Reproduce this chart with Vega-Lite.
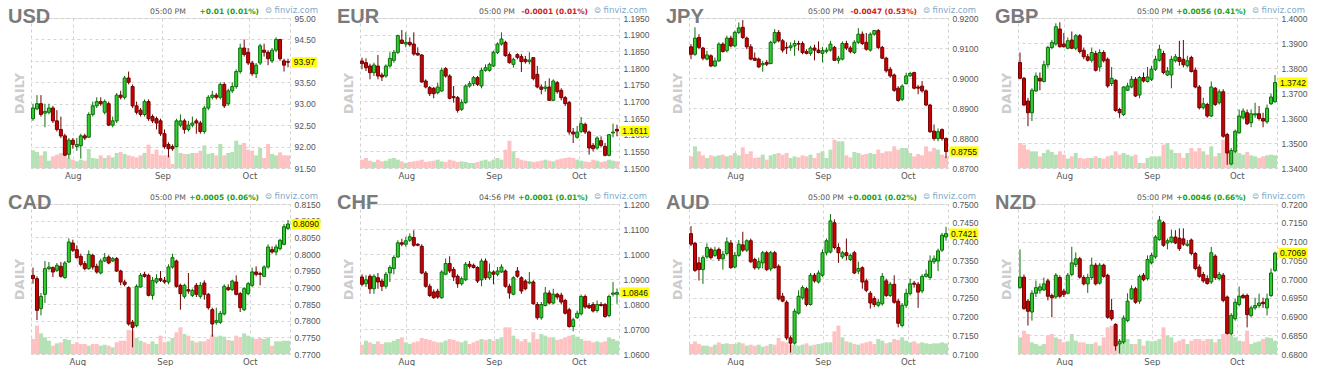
{
"$schema":"https://vega.github.io/schema/vega-lite/v6.json",
"padding":{"left":7,"top":5,"right":0,"bottom":0},
"background":"white",
"columns":4,
"spacing":{"row":36,"column":70},
"bounds":"flush",
"datasets":{
"USD":[{"i":0,"o":92.65,"h":93.0,"l":92.6,"c":92.9,"v":53},{"i":1,"o":92.88,"h":93.2,"l":92.85,"c":93.0,"v":48},{"i":2,"o":93.0,"h":93.2,"l":92.7,"c":92.75,"v":38},{"i":3,"o":92.78,"h":93.0,"l":92.45,"c":92.82,"v":50},{"i":4,"o":92.8,"h":93.0,"l":92.75,"c":92.9,"v":22},{"i":5,"o":92.9,"h":92.95,"l":92.55,"c":92.6,"v":35},{"i":6,"o":92.6,"h":92.85,"l":92.35,"c":92.4,"v":40},{"i":7,"o":92.4,"h":92.7,"l":92.2,"c":92.25,"v":45},{"i":8,"o":92.25,"h":92.3,"l":91.78,"c":91.8,"v":65},{"i":9,"o":91.82,"h":92.2,"l":91.72,"c":92.15,"v":30},{"i":10,"o":92.15,"h":92.2,"l":91.95,"c":92.05,"v":25},{"i":11,"o":92.0,"h":92.2,"l":91.9,"c":92.05,"v":20},{"i":12,"o":92.02,"h":92.3,"l":91.72,"c":92.25,"v":25},{"i":13,"o":92.25,"h":92.3,"l":92.15,"c":92.2,"v":22},{"i":14,"o":92.22,"h":92.8,"l":92.2,"c":92.75,"v":57},{"i":15,"o":92.75,"h":93.05,"l":92.7,"c":92.95,"v":30},{"i":16,"o":92.95,"h":93.15,"l":92.9,"c":93.05,"v":28},{"i":17,"o":93.05,"h":93.15,"l":92.95,"c":93.0,"v":38},{"i":18,"o":92.8,"h":93.1,"l":92.75,"c":93.05,"v":30},{"i":19,"o":93.0,"h":93.05,"l":92.48,"c":92.5,"v":38},{"i":20,"o":92.5,"h":92.7,"l":92.45,"c":92.6,"v":32},{"i":21,"o":92.6,"h":93.25,"l":92.55,"c":93.2,"v":45},{"i":22,"o":93.2,"h":93.3,"l":93.1,"c":93.15,"v":48},{"i":23,"o":93.15,"h":93.65,"l":93.1,"c":93.6,"v":42},{"i":24,"o":93.6,"h":93.75,"l":93.45,"c":93.5,"v":38},{"i":25,"o":93.4,"h":93.45,"l":92.9,"c":92.95,"v":35},{"i":26,"o":92.95,"h":93.05,"l":92.75,"c":92.8,"v":32},{"i":27,"o":92.85,"h":92.9,"l":92.7,"c":92.75,"v":38},{"i":28,"o":92.75,"h":93.1,"l":92.7,"c":93.05,"v":45},{"i":29,"o":93.05,"h":93.1,"l":92.6,"c":92.65,"v":70},{"i":30,"o":92.7,"h":92.75,"l":92.55,"c":92.6,"v":42},{"i":31,"o":92.65,"h":92.7,"l":92.4,"c":92.55,"v":55},{"i":32,"o":92.6,"h":92.65,"l":92.25,"c":92.3,"v":38},{"i":33,"o":92.3,"h":92.4,"l":91.95,"c":92.0,"v":38},{"i":34,"o":92.05,"h":92.1,"l":91.75,"c":91.95,"v":38},{"i":35,"o":92.0,"h":92.05,"l":91.9,"c":91.95,"v":12},{"i":36,"o":92.0,"h":92.65,"l":91.98,"c":92.6,"v":72},{"i":37,"o":92.5,"h":92.75,"l":92.45,"c":92.6,"v":45},{"i":38,"o":92.6,"h":92.65,"l":92.3,"c":92.4,"v":42},{"i":39,"o":92.4,"h":92.6,"l":92.35,"c":92.5,"v":42},{"i":40,"o":92.5,"h":92.7,"l":92.45,"c":92.55,"v":45},{"i":41,"o":92.6,"h":92.65,"l":92.3,"c":92.55,"v":45},{"i":42,"o":92.55,"h":92.6,"l":92.3,"c":92.35,"v":52},{"i":43,"o":92.35,"h":92.95,"l":92.3,"c":92.9,"v":68},{"i":44,"o":92.9,"h":93.2,"l":92.85,"c":93.15,"v":42},{"i":45,"o":93.15,"h":93.3,"l":93.1,"c":93.2,"v":45},{"i":46,"o":93.2,"h":93.25,"l":93.1,"c":93.15,"v":38},{"i":47,"o":93.15,"h":93.5,"l":93.1,"c":93.45,"v":72},{"i":48,"o":93.45,"h":93.5,"l":92.9,"c":92.95,"v":38},{"i":49,"o":93.0,"h":93.35,"l":92.95,"c":93.3,"v":45},{"i":50,"o":93.3,"h":93.5,"l":93.25,"c":93.4,"v":48},{"i":51,"o":93.4,"h":93.8,"l":93.35,"c":93.75,"v":82},{"i":52,"o":93.75,"h":94.4,"l":93.7,"c":94.3,"v":70},{"i":53,"o":94.3,"h":94.5,"l":94.1,"c":94.15,"v":75},{"i":54,"o":94.2,"h":94.3,"l":93.9,"c":93.95,"v":55},{"i":55,"o":93.95,"h":94.0,"l":93.65,"c":93.7,"v":52},{"i":56,"o":93.7,"h":93.95,"l":93.6,"c":93.9,"v":38},{"i":57,"o":93.95,"h":94.4,"l":93.9,"c":94.35,"v":60},{"i":58,"o":94.25,"h":94.4,"l":94.1,"c":94.2,"v":30},{"i":59,"o":94.2,"h":94.25,"l":93.9,"c":94.05,"v":72},{"i":60,"o":94.0,"h":94.3,"l":93.95,"c":94.25,"v":42},{"i":61,"o":94.25,"h":94.55,"l":94.2,"c":94.5,"v":38},{"i":62,"o":94.5,"h":94.5,"l":94.0,"c":94.05,"v":47},{"i":63,"o":94.0,"h":94.05,"l":93.75,"c":93.9,"v":38},{"i":64,"o":93.98,"h":94.05,"l":93.85,"c":93.97,"v":38}],
"EUR":[{"i":0,"o":1.1821,"h":1.1831,"l":1.1796,"c":1.1813,"v":25},{"i":1,"o":1.1816,"h":1.1829,"l":1.1791,"c":1.1801,"v":30},{"i":2,"o":1.1806,"h":1.1813,"l":1.1766,"c":1.1786,"v":22},{"i":3,"o":1.1786,"h":1.1816,"l":1.1776,"c":1.1809,"v":18},{"i":4,"o":1.1806,"h":1.1839,"l":1.1766,"c":1.1776,"v":25},{"i":5,"o":1.1779,"h":1.1786,"l":1.1761,"c":1.1773,"v":20},{"i":6,"o":1.1776,"h":1.1811,"l":1.1771,"c":1.1806,"v":22},{"i":7,"o":1.1806,"h":1.1847,"l":1.1801,"c":1.1829,"v":28},{"i":8,"o":1.1823,"h":1.1854,"l":1.1816,"c":1.1847,"v":30},{"i":9,"o":1.1847,"h":1.19,"l":1.1842,"c":1.1897,"v":25},{"i":10,"o":1.1884,"h":1.1914,"l":1.1872,"c":1.1874,"v":20},{"i":11,"o":1.1872,"h":1.1907,"l":1.1862,"c":1.1877,"v":15},{"i":12,"o":1.1877,"h":1.1892,"l":1.1864,"c":1.187,"v":18},{"i":13,"o":1.1872,"h":1.1907,"l":1.1837,"c":1.1842,"v":20},{"i":14,"o":1.1844,"h":1.1862,"l":1.1837,"c":1.1839,"v":22},{"i":15,"o":1.1839,"h":1.1842,"l":1.1756,"c":1.1758,"v":25},{"i":16,"o":1.1761,"h":1.1766,"l":1.1739,"c":1.1743,"v":18},{"i":17,"o":1.1741,"h":1.1746,"l":1.1716,"c":1.1723,"v":20},{"i":18,"o":1.1739,"h":1.1743,"l":1.1709,"c":1.1723,"v":22},{"i":19,"o":1.1726,"h":1.1756,"l":1.1721,"c":1.1743,"v":25},{"i":20,"o":1.1731,"h":1.1801,"l":1.1729,"c":1.1793,"v":20},{"i":21,"o":1.1798,"h":1.1803,"l":1.1771,"c":1.1776,"v":18},{"i":22,"o":1.1776,"h":1.1781,"l":1.1706,"c":1.1709,"v":25},{"i":23,"o":1.1714,"h":1.1746,"l":1.1696,"c":1.1711,"v":22},{"i":24,"o":1.1711,"h":1.1716,"l":1.1666,"c":1.1673,"v":18},{"i":25,"o":1.1676,"h":1.1706,"l":1.1671,"c":1.1696,"v":20},{"i":26,"o":1.1696,"h":1.1751,"l":1.1693,"c":1.1746,"v":18},{"i":27,"o":1.1746,"h":1.1761,"l":1.1741,"c":1.1753,"v":15},{"i":28,"o":1.1753,"h":1.1776,"l":1.1746,"c":1.1771,"v":15},{"i":29,"o":1.1771,"h":1.1776,"l":1.1746,"c":1.1751,"v":18},{"i":30,"o":1.1746,"h":1.1801,"l":1.1739,"c":1.1793,"v":22},{"i":31,"o":1.1793,"h":1.1811,"l":1.1789,"c":1.1801,"v":25},{"i":32,"o":1.1793,"h":1.1816,"l":1.1789,"c":1.1811,"v":20},{"i":33,"o":1.1806,"h":1.1852,"l":1.1803,"c":1.1847,"v":25},{"i":34,"o":1.1847,"h":1.1877,"l":1.1842,"c":1.1872,"v":30},{"i":35,"o":1.1872,"h":1.1907,"l":1.1867,"c":1.1887,"v":25},{"i":36,"o":1.1877,"h":1.1882,"l":1.1834,"c":1.1837,"v":55},{"i":37,"o":1.184,"h":1.1847,"l":1.1813,"c":1.1816,"v":82},{"i":38,"o":1.1811,"h":1.1831,"l":1.1801,"c":1.1826,"v":50},{"i":39,"o":1.184,"h":1.1844,"l":1.1826,"c":1.1832,"v":30},{"i":40,"o":1.1834,"h":1.1842,"l":1.1788,"c":1.1819,"v":25},{"i":41,"o":1.1826,"h":1.1836,"l":1.1813,"c":1.1819,"v":22},{"i":42,"o":1.1819,"h":1.1847,"l":1.1811,"c":1.1824,"v":20},{"i":43,"o":1.1831,"h":1.1833,"l":1.1763,"c":1.1768,"v":18},{"i":44,"o":1.1781,"h":1.1806,"l":1.1739,"c":1.1743,"v":20},{"i":45,"o":1.1743,"h":1.1751,"l":1.1721,"c":1.1736,"v":22},{"i":46,"o":1.1739,"h":1.1761,"l":1.1729,"c":1.1743,"v":25},{"i":47,"o":1.1743,"h":1.1769,"l":1.1701,"c":1.1703,"v":22},{"i":48,"o":1.1703,"h":1.1766,"l":1.1701,"c":1.1761,"v":20},{"i":49,"o":1.1756,"h":1.1761,"l":1.1723,"c":1.1729,"v":25},{"i":50,"o":1.1733,"h":1.1739,"l":1.1703,"c":1.1711,"v":28},{"i":51,"o":1.1711,"h":1.1716,"l":1.1686,"c":1.1693,"v":30},{"i":52,"o":1.1696,"h":1.1701,"l":1.16,"c":1.1608,"v":32},{"i":53,"o":1.1608,"h":1.162,"l":1.1575,"c":1.1602,"v":30},{"i":54,"o":1.1592,"h":1.1626,"l":1.1588,"c":1.1608,"v":25},{"i":55,"o":1.161,"h":1.1653,"l":1.1605,"c":1.1633,"v":22},{"i":56,"o":1.1631,"h":1.1636,"l":1.1602,"c":1.1608,"v":20},{"i":57,"o":1.1608,"h":1.1612,"l":1.154,"c":1.156,"v":18},{"i":58,"o":1.1568,"h":1.1575,"l":1.155,"c":1.1558,"v":25},{"i":59,"o":1.156,"h":1.1595,"l":1.1555,"c":1.159,"v":22},{"i":60,"o":1.1582,"h":1.1595,"l":1.1562,"c":1.1568,"v":18},{"i":61,"o":1.1565,"h":1.1575,"l":1.1535,"c":1.1538,"v":20},{"i":62,"o":1.1538,"h":1.1602,"l":1.1535,"c":1.16,"v":25},{"i":63,"o":1.1605,"h":1.1633,"l":1.1592,"c":1.1608,"v":22},{"i":64,"o":1.1616,"h":1.163,"l":1.1595,"c":1.1611,"v":20}],
"JPY":[{"i":0,"o":0.9104,"h":0.9113,"l":0.9063,"c":0.9079,"v":35},{"i":1,"o":0.9079,"h":0.9169,"l":0.9074,"c":0.9133,"v":65},{"i":2,"o":0.9135,"h":0.9146,"l":0.9096,"c":0.9102,"v":50},{"i":3,"o":0.91,"h":0.9104,"l":0.9059,"c":0.9066,"v":38},{"i":4,"o":0.9063,"h":0.9091,"l":0.9059,"c":0.9077,"v":30},{"i":5,"o":0.9074,"h":0.9079,"l":0.9037,"c":0.904,"v":38},{"i":6,"o":0.904,"h":0.9068,"l":0.9037,"c":0.9057,"v":35},{"i":7,"o":0.9057,"h":0.9119,"l":0.9054,"c":0.9113,"v":38},{"i":8,"o":0.9113,"h":0.9119,"l":0.9085,"c":0.9088,"v":40},{"i":9,"o":0.9091,"h":0.9141,"l":0.9085,"c":0.9133,"v":35},{"i":10,"o":0.9133,"h":0.9141,"l":0.9102,"c":0.9107,"v":38},{"i":11,"o":0.9107,"h":0.9158,"l":0.9102,"c":0.9152,"v":45},{"i":12,"o":0.9152,"h":0.9185,"l":0.9146,"c":0.9167,"v":38},{"i":13,"o":0.9169,"h":0.9193,"l":0.913,"c":0.9135,"v":62},{"i":14,"o":0.9133,"h":0.9138,"l":0.9096,"c":0.9104,"v":42},{"i":15,"o":0.9104,"h":0.9113,"l":0.9059,"c":0.9063,"v":50},{"i":16,"o":0.9066,"h":0.9085,"l":0.9057,"c":0.9059,"v":30},{"i":17,"o":0.9063,"h":0.9068,"l":0.9033,"c":0.9037,"v":32},{"i":18,"o":0.9044,"h":0.9057,"l":0.9021,"c":0.9048,"v":40},{"i":19,"o":0.9052,"h":0.906,"l":0.904,"c":0.9046,"v":25},{"i":20,"o":0.9048,"h":0.9124,"l":0.9046,"c":0.9119,"v":38},{"i":21,"o":0.9119,"h":0.9163,"l":0.9113,"c":0.9152,"v":42},{"i":22,"o":0.9152,"h":0.916,"l":0.9119,"c":0.9124,"v":45},{"i":23,"o":0.9124,"h":0.913,"l":0.9085,"c":0.9093,"v":40},{"i":24,"o":0.9102,"h":0.9119,"l":0.908,"c":0.91,"v":45},{"i":25,"o":0.9102,"h":0.9119,"l":0.9091,"c":0.9107,"v":30},{"i":26,"o":0.9107,"h":0.9126,"l":0.9074,"c":0.9115,"v":35},{"i":27,"o":0.9115,"h":0.9124,"l":0.9091,"c":0.9113,"v":32},{"i":28,"o":0.9115,"h":0.9122,"l":0.9079,"c":0.9085,"v":38},{"i":29,"o":0.9088,"h":0.9096,"l":0.9079,"c":0.9082,"v":35},{"i":30,"o":0.9082,"h":0.9107,"l":0.9074,"c":0.91,"v":40},{"i":31,"o":0.91,"h":0.9111,"l":0.9059,"c":0.9093,"v":30},{"i":32,"o":0.9093,"h":0.9122,"l":0.9082,"c":0.9085,"v":45},{"i":33,"o":0.9082,"h":0.9104,"l":0.9052,"c":0.9091,"v":50},{"i":34,"o":0.9089,"h":0.9102,"l":0.9082,"c":0.9093,"v":30},{"i":35,"o":0.9093,"h":0.9124,"l":0.9088,"c":0.9113,"v":55},{"i":36,"o":0.9102,"h":0.9107,"l":0.9057,"c":0.9059,"v":85},{"i":37,"o":0.9059,"h":0.9074,"l":0.9048,"c":0.9066,"v":80},{"i":38,"o":0.9063,"h":0.9122,"l":0.9059,"c":0.9115,"v":80},{"i":39,"o":0.9115,"h":0.9124,"l":0.9093,"c":0.91,"v":38},{"i":40,"o":0.91,"h":0.9107,"l":0.9082,"c":0.9088,"v":32},{"i":41,"o":0.9085,"h":0.9126,"l":0.908,"c":0.9119,"v":48},{"i":42,"o":0.9119,"h":0.9166,"l":0.9113,"c":0.9146,"v":45},{"i":43,"o":0.9146,"h":0.9155,"l":0.911,"c":0.9115,"v":40},{"i":44,"o":0.9119,"h":0.915,"l":0.9091,"c":0.9096,"v":42},{"i":45,"o":0.9093,"h":0.9152,"l":0.9088,"c":0.9146,"v":45},{"i":46,"o":0.9146,"h":0.916,"l":0.9141,"c":0.9158,"v":42},{"i":47,"o":0.9158,"h":0.9163,"l":0.9096,"c":0.9102,"v":55},{"i":48,"o":0.9102,"h":0.9107,"l":0.9063,"c":0.9066,"v":45},{"i":49,"o":0.9066,"h":0.9071,"l":0.9018,"c":0.9024,"v":50},{"i":50,"o":0.9029,"h":0.9037,"l":0.9001,"c":0.9007,"v":50},{"i":51,"o":0.901,"h":0.9015,"l":0.8954,"c":0.8959,"v":65},{"i":52,"o":0.8966,"h":0.8973,"l":0.8921,"c":0.8925,"v":55},{"i":53,"o":0.8929,"h":0.8979,"l":0.8923,"c":0.8973,"v":60},{"i":54,"o":0.8981,"h":0.9018,"l":0.8979,"c":0.9007,"v":60},{"i":55,"o":0.9007,"h":0.9021,"l":0.9004,"c":0.9015,"v":45},{"i":56,"o":0.9018,"h":0.9021,"l":0.8962,"c":0.8966,"v":35},{"i":57,"o":0.897,"h":0.8977,"l":0.8946,"c":0.8966,"v":42},{"i":58,"o":0.8973,"h":0.899,"l":0.8951,"c":0.8957,"v":38},{"i":59,"o":0.8957,"h":0.8962,"l":0.8906,"c":0.891,"v":65},{"i":60,"o":0.891,"h":0.8914,"l":0.8817,"c":0.8821,"v":50},{"i":61,"o":0.8823,"h":0.8845,"l":0.8791,"c":0.8798,"v":60},{"i":62,"o":0.8798,"h":0.8832,"l":0.8789,"c":0.8821,"v":55},{"i":63,"o":0.8828,"h":0.8832,"l":0.8791,"c":0.8798,"v":40},{"i":64,"o":0.8798,"h":0.8802,"l":0.8733,"c":0.8755,"v":35}],
"GBP":[{"i":0,"o":1.3822,"h":1.3862,"l":1.3755,"c":1.3759,"v":75},{"i":1,"o":1.3759,"h":1.3764,"l":1.3648,"c":1.3652,"v":70},{"i":2,"o":1.3668,"h":1.3681,"l":1.3567,"c":1.3621,"v":55},{"i":3,"o":1.3621,"h":1.3719,"l":1.3588,"c":1.3711,"v":50},{"i":4,"o":1.3708,"h":1.3782,"l":1.3705,"c":1.3768,"v":50},{"i":5,"o":1.3759,"h":1.3782,"l":1.3711,"c":1.3748,"v":35},{"i":6,"o":1.3746,"h":1.3829,"l":1.3742,"c":1.3813,"v":45},{"i":7,"o":1.3813,"h":1.3889,"l":1.3802,"c":1.3882,"v":55},{"i":8,"o":1.3882,"h":1.3912,"l":1.3875,"c":1.3902,"v":48},{"i":9,"o":1.3896,"h":1.3979,"l":1.3889,"c":1.3965,"v":40},{"i":10,"o":1.3956,"h":1.3983,"l":1.3882,"c":1.3885,"v":50},{"i":11,"o":1.3896,"h":1.394,"l":1.3882,"c":1.3885,"v":40},{"i":12,"o":1.3879,"h":1.3922,"l":1.3875,"c":1.3909,"v":28},{"i":13,"o":1.3912,"h":1.3946,"l":1.3875,"c":1.3879,"v":35},{"i":14,"o":1.3879,"h":1.3936,"l":1.3871,"c":1.3929,"v":45},{"i":15,"o":1.3929,"h":1.3936,"l":1.3858,"c":1.3866,"v":30},{"i":16,"o":1.3871,"h":1.3882,"l":1.3835,"c":1.3845,"v":28},{"i":17,"o":1.3845,"h":1.3856,"l":1.3826,"c":1.3831,"v":30},{"i":18,"o":1.3831,"h":1.3882,"l":1.3822,"c":1.3862,"v":30},{"i":19,"o":1.3858,"h":1.3869,"l":1.3786,"c":1.3791,"v":35},{"i":20,"o":1.3804,"h":1.3875,"l":1.3786,"c":1.3862,"v":30},{"i":21,"o":1.3862,"h":1.3871,"l":1.3822,"c":1.3829,"v":28},{"i":22,"o":1.3835,"h":1.3842,"l":1.3721,"c":1.3728,"v":35},{"i":23,"o":1.3738,"h":1.3804,"l":1.3728,"c":1.3759,"v":38},{"i":24,"o":1.3751,"h":1.3755,"l":1.3625,"c":1.363,"v":50},{"i":25,"o":1.3634,"h":1.3641,"l":1.3601,"c":1.3621,"v":40},{"i":26,"o":1.3614,"h":1.3728,"l":1.3608,"c":1.3724,"v":45},{"i":27,"o":1.3711,"h":1.3741,"l":1.3708,"c":1.3728,"v":40},{"i":28,"o":1.3724,"h":1.3768,"l":1.3719,"c":1.3755,"v":35},{"i":29,"o":1.3755,"h":1.3764,"l":1.3684,"c":1.3688,"v":40},{"i":30,"o":1.3692,"h":1.3768,"l":1.3679,"c":1.3762,"v":15},{"i":31,"o":1.3762,"h":1.3782,"l":1.3742,"c":1.3748,"v":15},{"i":32,"o":1.3746,"h":1.3804,"l":1.3742,"c":1.3764,"v":30},{"i":33,"o":1.3755,"h":1.3809,"l":1.3748,"c":1.3795,"v":35},{"i":34,"o":1.3795,"h":1.3849,"l":1.3788,"c":1.3835,"v":35},{"i":35,"o":1.3831,"h":1.3893,"l":1.3826,"c":1.3875,"v":35},{"i":36,"o":1.3858,"h":1.3869,"l":1.3775,"c":1.3782,"v":70},{"i":37,"o":1.3772,"h":1.3804,"l":1.3768,"c":1.3788,"v":75},{"i":38,"o":1.3772,"h":1.3849,"l":1.3719,"c":1.3835,"v":55},{"i":39,"o":1.3829,"h":1.3856,"l":1.3822,"c":1.3845,"v":45},{"i":40,"o":1.3842,"h":1.3909,"l":1.3809,"c":1.3826,"v":45},{"i":41,"o":1.3835,"h":1.3912,"l":1.3802,"c":1.3813,"v":30},{"i":42,"o":1.3809,"h":1.3849,"l":1.3802,"c":1.3829,"v":45},{"i":43,"o":1.3842,"h":1.3849,"l":1.3782,"c":1.3786,"v":60},{"i":44,"o":1.3791,"h":1.3802,"l":1.3719,"c":1.3724,"v":50},{"i":45,"o":1.3724,"h":1.3732,"l":1.3634,"c":1.3641,"v":60},{"i":46,"o":1.3641,"h":1.3681,"l":1.3634,"c":1.3657,"v":50},{"i":47,"o":1.3654,"h":1.3661,"l":1.3601,"c":1.3608,"v":40},{"i":48,"o":1.3608,"h":1.3746,"l":1.3604,"c":1.3724,"v":65},{"i":49,"o":1.3719,"h":1.3724,"l":1.3648,"c":1.3654,"v":35},{"i":50,"o":1.3661,"h":1.3715,"l":1.3654,"c":1.3705,"v":45},{"i":51,"o":1.3705,"h":1.3715,"l":1.3521,"c":1.3527,"v":85},{"i":52,"o":1.3534,"h":1.3541,"l":1.3413,"c":1.346,"v":75},{"i":53,"o":1.3416,"h":1.348,"l":1.3411,"c":1.347,"v":50},{"i":54,"o":1.3467,"h":1.3554,"l":1.346,"c":1.3547,"v":48},{"i":55,"o":1.3541,"h":1.3634,"l":1.3537,"c":1.3608,"v":45},{"i":56,"o":1.3601,"h":1.3639,"l":1.3594,"c":1.3628,"v":40},{"i":57,"o":1.3621,"h":1.3634,"l":1.3572,"c":1.3577,"v":48},{"i":58,"o":1.3581,"h":1.3634,"l":1.3563,"c":1.3617,"v":38},{"i":59,"o":1.3612,"h":1.3661,"l":1.3601,"c":1.3617,"v":35},{"i":60,"o":1.3617,"h":1.3648,"l":1.359,"c":1.3598,"v":30},{"i":61,"o":1.3598,"h":1.3621,"l":1.3563,"c":1.3588,"v":35},{"i":62,"o":1.3585,"h":1.3654,"l":1.3577,"c":1.3639,"v":38},{"i":63,"o":1.3657,"h":1.3697,"l":1.3652,"c":1.3684,"v":40},{"i":64,"o":1.3665,"h":1.3772,"l":1.3661,"c":1.3742,"v":38}],
"CAD":[{"i":0,"o":0.7936,"h":0.7959,"l":0.7911,"c":0.7926,"v":45},{"i":1,"o":0.7926,"h":0.7933,"l":0.7802,"c":0.7831,"v":85},{"i":2,"o":0.7836,"h":0.7883,"l":0.7816,"c":0.7873,"v":62},{"i":3,"o":0.7879,"h":0.7979,"l":0.7853,"c":0.7956,"v":50},{"i":4,"o":0.7956,"h":0.7976,"l":0.7951,"c":0.7961,"v":40},{"i":5,"o":0.7959,"h":0.7963,"l":0.7931,"c":0.7946,"v":25},{"i":6,"o":0.7951,"h":0.7973,"l":0.7946,"c":0.7966,"v":32},{"i":7,"o":0.7963,"h":0.7976,"l":0.7929,"c":0.7933,"v":35},{"i":8,"o":0.7929,"h":0.7979,"l":0.7926,"c":0.7973,"v":45},{"i":9,"o":0.7976,"h":0.8047,"l":0.7973,"c":0.8036,"v":42},{"i":10,"o":0.8033,"h":0.8043,"l":0.8006,"c":0.8011,"v":30},{"i":11,"o":0.8013,"h":0.8026,"l":0.7986,"c":0.7989,"v":35},{"i":12,"o":0.7993,"h":0.8001,"l":0.7963,"c":0.7969,"v":30},{"i":13,"o":0.7971,"h":0.7979,"l":0.7951,"c":0.7956,"v":30},{"i":14,"o":0.7956,"h":0.8011,"l":0.7953,"c":0.7999,"v":25},{"i":15,"o":0.7996,"h":0.8001,"l":0.7953,"c":0.7961,"v":30},{"i":16,"o":0.7963,"h":0.7971,"l":0.7941,"c":0.7946,"v":30},{"i":17,"o":0.7943,"h":0.7986,"l":0.7939,"c":0.7979,"v":25},{"i":18,"o":0.7979,"h":0.8003,"l":0.7976,"c":0.7989,"v":28},{"i":19,"o":0.7991,"h":0.7996,"l":0.7969,"c":0.7973,"v":25},{"i":20,"o":0.7979,"h":0.7991,"l":0.7976,"c":0.7986,"v":20},{"i":21,"o":0.7986,"h":0.7991,"l":0.7946,"c":0.7949,"v":35},{"i":22,"o":0.7949,"h":0.7953,"l":0.7906,"c":0.7916,"v":40},{"i":23,"o":0.7916,"h":0.7923,"l":0.7903,"c":0.7909,"v":40},{"i":24,"o":0.7899,"h":0.7903,"l":0.7785,"c":0.779,"v":72},{"i":25,"o":0.7795,"h":0.7802,"l":0.772,"c":0.778,"v":70},{"i":26,"o":0.7785,"h":0.7909,"l":0.778,"c":0.7903,"v":48},{"i":27,"o":0.7901,"h":0.7943,"l":0.7899,"c":0.7936,"v":40},{"i":28,"o":0.7939,"h":0.7946,"l":0.7929,"c":0.7933,"v":35},{"i":29,"o":0.7936,"h":0.7941,"l":0.7873,"c":0.7876,"v":30},{"i":30,"o":0.7876,"h":0.7931,"l":0.7863,"c":0.7921,"v":38},{"i":31,"o":0.7916,"h":0.7939,"l":0.7911,"c":0.7926,"v":30},{"i":32,"o":0.7926,"h":0.7949,"l":0.7916,"c":0.7921,"v":55},{"i":33,"o":0.7921,"h":0.7931,"l":0.7911,"c":0.7916,"v":35},{"i":34,"o":0.7916,"h":0.7969,"l":0.7909,"c":0.7961,"v":38},{"i":35,"o":0.7961,"h":0.8001,"l":0.7956,"c":0.7989,"v":48},{"i":36,"o":0.7979,"h":0.7983,"l":0.7899,"c":0.7903,"v":65},{"i":37,"o":0.7906,"h":0.7911,"l":0.7833,"c":0.7881,"v":80},{"i":38,"o":0.7873,"h":0.7911,"l":0.7866,"c":0.7906,"v":60},{"i":39,"o":0.7893,"h":0.7943,"l":0.7881,"c":0.7889,"v":55},{"i":40,"o":0.7876,"h":0.7896,"l":0.7871,"c":0.7891,"v":40},{"i":41,"o":0.7906,"h":0.7913,"l":0.7871,"c":0.7879,"v":35},{"i":42,"o":0.7873,"h":0.7916,"l":0.7866,"c":0.7906,"v":38},{"i":43,"o":0.7913,"h":0.7921,"l":0.7863,"c":0.7879,"v":38},{"i":44,"o":0.7879,"h":0.7883,"l":0.7833,"c":0.7839,"v":45},{"i":45,"o":0.7833,"h":0.7839,"l":0.7752,"c":0.779,"v":58},{"i":46,"o":0.7795,"h":0.7839,"l":0.7788,"c":0.78,"v":52},{"i":47,"o":0.7795,"h":0.7829,"l":0.779,"c":0.7822,"v":55},{"i":48,"o":0.782,"h":0.7909,"l":0.7816,"c":0.7903,"v":52},{"i":49,"o":0.7899,"h":0.7909,"l":0.7889,"c":0.7893,"v":42},{"i":50,"o":0.7893,"h":0.7923,"l":0.7889,"c":0.7919,"v":40},{"i":51,"o":0.7916,"h":0.7936,"l":0.7876,"c":0.7879,"v":55},{"i":52,"o":0.7881,"h":0.7886,"l":0.7826,"c":0.7839,"v":50},{"i":53,"o":0.7833,"h":0.7901,"l":0.7829,"c":0.7896,"v":62},{"i":54,"o":0.7881,"h":0.7916,"l":0.7876,"c":0.7911,"v":55},{"i":55,"o":0.7906,"h":0.7959,"l":0.7901,"c":0.7946,"v":48},{"i":56,"o":0.7946,"h":0.7963,"l":0.7933,"c":0.7939,"v":45},{"i":57,"o":0.7941,"h":0.7946,"l":0.7906,"c":0.7939,"v":48},{"i":58,"o":0.7933,"h":0.7966,"l":0.7931,"c":0.7961,"v":45},{"i":59,"o":0.7961,"h":0.8029,"l":0.7956,"c":0.8021,"v":50},{"i":60,"o":0.8013,"h":0.8023,"l":0.8001,"c":0.8006,"v":25},{"i":61,"o":0.8006,"h":0.8029,"l":0.7996,"c":0.8021,"v":38},{"i":62,"o":0.8016,"h":0.8046,"l":0.8011,"c":0.8041,"v":38},{"i":63,"o":0.8029,"h":0.809,"l":0.8026,"c":0.8082,"v":40},{"i":64,"o":0.8077,"h":0.8102,"l":0.8072,"c":0.809,"v":40}],
"CHF":[{"i":0,"o":1.0908,"h":1.0919,"l":1.0871,"c":1.0879,"v":28},{"i":1,"o":1.0881,"h":1.0915,"l":1.0868,"c":1.0897,"v":40},{"i":2,"o":1.0911,"h":1.0919,"l":1.0841,"c":1.0861,"v":35},{"i":3,"o":1.0861,"h":1.0919,"l":1.0841,"c":1.0911,"v":30},{"i":4,"o":1.0905,"h":1.0924,"l":1.0861,"c":1.0888,"v":38},{"i":5,"o":1.0892,"h":1.0901,"l":1.0852,"c":1.0871,"v":30},{"i":6,"o":1.0871,"h":1.0928,"l":1.0861,"c":1.0919,"v":35},{"i":7,"o":1.0924,"h":1.0955,"l":1.0888,"c":1.0946,"v":35},{"i":8,"o":1.0942,"h":1.0995,"l":1.0919,"c":1.0986,"v":40},{"i":9,"o":1.0988,"h":1.1055,"l":1.0986,"c":1.1045,"v":45},{"i":10,"o":1.1045,"h":1.1061,"l":1.1031,"c":1.1039,"v":50},{"i":11,"o":1.1039,"h":1.1069,"l":1.1029,"c":1.1053,"v":35},{"i":12,"o":1.1055,"h":1.1082,"l":1.1048,"c":1.1069,"v":30},{"i":13,"o":1.1066,"h":1.1095,"l":1.1029,"c":1.1035,"v":35},{"i":14,"o":1.1039,"h":1.1043,"l":1.1031,"c":1.1035,"v":38},{"i":15,"o":1.1031,"h":1.1039,"l":1.0919,"c":1.0924,"v":48},{"i":16,"o":1.0924,"h":1.0932,"l":1.0865,"c":1.0871,"v":45},{"i":17,"o":1.0871,"h":1.0881,"l":1.0828,"c":1.0834,"v":42},{"i":18,"o":1.0848,"h":1.0858,"l":1.0821,"c":1.0825,"v":38},{"i":19,"o":1.0851,"h":1.0861,"l":1.0821,"c":1.0828,"v":35},{"i":20,"o":1.0825,"h":1.0935,"l":1.0821,"c":1.0928,"v":35},{"i":21,"o":1.0919,"h":1.0982,"l":1.0915,"c":1.0962,"v":40},{"i":22,"o":1.0962,"h":1.0991,"l":1.0924,"c":1.0932,"v":45},{"i":23,"o":1.0938,"h":1.0948,"l":1.0892,"c":1.0908,"v":42},{"i":24,"o":1.0911,"h":1.0919,"l":1.0865,"c":1.0881,"v":38},{"i":25,"o":1.0881,"h":1.091,"l":1.0874,"c":1.0901,"v":35},{"i":26,"o":1.0897,"h":1.0968,"l":1.0892,"c":1.0959,"v":40},{"i":27,"o":1.0959,"h":1.0972,"l":1.0942,"c":1.0951,"v":30},{"i":28,"o":1.0955,"h":1.0962,"l":1.0942,"c":1.0946,"v":35},{"i":29,"o":1.0946,"h":1.0951,"l":1.0884,"c":1.0892,"v":40},{"i":30,"o":1.0897,"h":1.0982,"l":1.0871,"c":1.0972,"v":45},{"i":31,"o":1.0972,"h":1.0982,"l":1.0897,"c":1.0905,"v":42},{"i":32,"o":1.0905,"h":1.0962,"l":1.0897,"c":1.0928,"v":45},{"i":33,"o":1.0928,"h":1.0935,"l":1.0879,"c":1.0919,"v":40},{"i":34,"o":1.0919,"h":1.0948,"l":1.0911,"c":1.0932,"v":45},{"i":35,"o":1.0928,"h":1.0959,"l":1.0924,"c":1.0948,"v":50},{"i":36,"o":1.0932,"h":1.0938,"l":1.0865,"c":1.0871,"v":80},{"i":37,"o":1.0871,"h":1.0881,"l":1.0821,"c":1.0844,"v":80},{"i":38,"o":1.0839,"h":1.0911,"l":1.0835,"c":1.0905,"v":55},{"i":39,"o":1.0932,"h":1.0948,"l":1.0905,"c":1.0911,"v":45},{"i":40,"o":1.0905,"h":1.0911,"l":1.0841,"c":1.0852,"v":38},{"i":41,"o":1.0892,"h":1.0899,"l":1.0855,"c":1.0861,"v":45},{"i":42,"o":1.0884,"h":1.0928,"l":1.0879,"c":1.0888,"v":35},{"i":43,"o":1.0888,"h":1.0895,"l":1.0798,"c":1.0801,"v":65},{"i":44,"o":1.0798,"h":1.0808,"l":1.0737,"c":1.0745,"v":45},{"i":45,"o":1.0745,"h":1.0808,"l":1.0737,"c":1.0798,"v":60},{"i":46,"o":1.0794,"h":1.0868,"l":1.079,"c":1.0844,"v":55},{"i":47,"o":1.0844,"h":1.0855,"l":1.0798,"c":1.0804,"v":50},{"i":48,"o":1.0804,"h":1.0861,"l":1.0798,"c":1.0839,"v":50},{"i":49,"o":1.0839,"h":1.0845,"l":1.0818,"c":1.0828,"v":42},{"i":50,"o":1.0835,"h":1.0845,"l":1.0798,"c":1.0808,"v":45},{"i":51,"o":1.0814,"h":1.0821,"l":1.0758,"c":1.0763,"v":50},{"i":52,"o":1.0777,"h":1.0785,"l":1.0705,"c":1.071,"v":55},{"i":53,"o":1.071,"h":1.0745,"l":1.0691,"c":1.0737,"v":58},{"i":54,"o":1.0745,"h":1.0774,"l":1.0741,"c":1.0763,"v":52},{"i":55,"o":1.0761,"h":1.0838,"l":1.0754,"c":1.083,"v":45},{"i":56,"o":1.083,"h":1.0838,"l":1.0781,"c":1.0788,"v":40},{"i":57,"o":1.0794,"h":1.0804,"l":1.078,"c":1.0785,"v":40},{"i":58,"o":1.0798,"h":1.0808,"l":1.0766,"c":1.0772,"v":35},{"i":59,"o":1.0774,"h":1.0814,"l":1.0766,"c":1.0798,"v":38},{"i":60,"o":1.0798,"h":1.0808,"l":1.079,"c":1.0794,"v":35},{"i":61,"o":1.0798,"h":1.0804,"l":1.0745,"c":1.075,"v":38},{"i":62,"o":1.0754,"h":1.0838,"l":1.0747,"c":1.083,"v":50},{"i":63,"o":1.0839,"h":1.0888,"l":1.083,"c":1.0844,"v":45},{"i":64,"o":1.0839,"h":1.0862,"l":1.0801,"c":1.0846,"v":40}],
"AUD":[{"i":0,"o":0.7421,"h":0.7441,"l":0.7388,"c":0.7393,"v":30},{"i":1,"o":0.7395,"h":0.7399,"l":0.7319,"c":0.7323,"v":38},{"i":2,"o":0.7343,"h":0.7359,"l":0.7296,"c":0.7325,"v":30},{"i":3,"o":0.7325,"h":0.7363,"l":0.7287,"c":0.7357,"v":25},{"i":4,"o":0.7359,"h":0.7395,"l":0.7354,"c":0.7384,"v":25},{"i":5,"o":0.7379,"h":0.7384,"l":0.7352,"c":0.7357,"v":22},{"i":6,"o":0.7363,"h":0.7386,"l":0.7359,"c":0.7377,"v":28},{"i":7,"o":0.7379,"h":0.7384,"l":0.7348,"c":0.7354,"v":35},{"i":8,"o":0.7354,"h":0.7375,"l":0.7325,"c":0.7366,"v":30},{"i":9,"o":0.7368,"h":0.7411,"l":0.7363,"c":0.7399,"v":32},{"i":10,"o":0.7396,"h":0.7404,"l":0.7328,"c":0.733,"v":30},{"i":11,"o":0.7332,"h":0.7372,"l":0.7328,"c":0.7363,"v":30},{"i":12,"o":0.7363,"h":0.7404,"l":0.7359,"c":0.7393,"v":35},{"i":13,"o":0.7391,"h":0.7426,"l":0.7372,"c":0.7377,"v":32},{"i":14,"o":0.7377,"h":0.7406,"l":0.7372,"c":0.7402,"v":25},{"i":15,"o":0.7402,"h":0.7408,"l":0.7343,"c":0.7346,"v":28},{"i":16,"o":0.7352,"h":0.7357,"l":0.7325,"c":0.733,"v":25},{"i":17,"o":0.733,"h":0.7357,"l":0.7325,"c":0.7346,"v":28},{"i":18,"o":0.7343,"h":0.7375,"l":0.7328,"c":0.737,"v":22},{"i":19,"o":0.737,"h":0.7375,"l":0.7321,"c":0.7325,"v":25},{"i":20,"o":0.7327,"h":0.7375,"l":0.7321,"c":0.737,"v":30},{"i":21,"o":0.737,"h":0.7375,"l":0.7328,"c":0.733,"v":28},{"i":22,"o":0.7334,"h":0.7339,"l":0.7243,"c":0.7247,"v":48},{"i":23,"o":0.7254,"h":0.7263,"l":0.7238,"c":0.7241,"v":38},{"i":24,"o":0.7238,"h":0.7243,"l":0.7137,"c":0.7143,"v":35},{"i":25,"o":0.7143,"h":0.7149,"l":0.7104,"c":0.7129,"v":28},{"i":26,"o":0.7129,"h":0.7221,"l":0.7125,"c":0.7214,"v":28},{"i":27,"o":0.7209,"h":0.727,"l":0.7205,"c":0.7254,"v":25},{"i":28,"o":0.725,"h":0.7283,"l":0.7245,"c":0.7277,"v":28},{"i":29,"o":0.7274,"h":0.7279,"l":0.7227,"c":0.7232,"v":32},{"i":30,"o":0.7232,"h":0.7316,"l":0.7229,"c":0.731,"v":25},{"i":31,"o":0.731,"h":0.7316,"l":0.729,"c":0.7295,"v":28},{"i":32,"o":0.7292,"h":0.7323,"l":0.7288,"c":0.7316,"v":30},{"i":33,"o":0.731,"h":0.7379,"l":0.7305,"c":0.737,"v":32},{"i":34,"o":0.737,"h":0.7408,"l":0.7363,"c":0.7402,"v":35},{"i":35,"o":0.7372,"h":0.7473,"l":0.7368,"c":0.7455,"v":35},{"i":36,"o":0.745,"h":0.7459,"l":0.7379,"c":0.7384,"v":68},{"i":37,"o":0.7384,"h":0.7395,"l":0.7343,"c":0.737,"v":85},{"i":38,"o":0.7359,"h":0.7375,"l":0.7354,"c":0.737,"v":50},{"i":39,"o":0.737,"h":0.7408,"l":0.735,"c":0.7363,"v":38},{"i":40,"o":0.7352,"h":0.7368,"l":0.7348,"c":0.7363,"v":35},{"i":41,"o":0.737,"h":0.7375,"l":0.7313,"c":0.7316,"v":30},{"i":42,"o":0.7321,"h":0.7346,"l":0.7313,"c":0.7328,"v":28},{"i":43,"o":0.733,"h":0.7334,"l":0.7274,"c":0.7292,"v":32},{"i":44,"o":0.7295,"h":0.7301,"l":0.7265,"c":0.727,"v":35},{"i":45,"o":0.7262,"h":0.7268,"l":0.7221,"c":0.7236,"v":38},{"i":46,"o":0.7248,"h":0.7254,"l":0.7225,"c":0.7232,"v":30},{"i":47,"o":0.723,"h":0.7247,"l":0.7225,"c":0.7238,"v":45},{"i":48,"o":0.7234,"h":0.7316,"l":0.7229,"c":0.7307,"v":40},{"i":49,"o":0.7295,"h":0.7301,"l":0.7252,"c":0.7256,"v":32},{"i":50,"o":0.7256,"h":0.7292,"l":0.7252,"c":0.7286,"v":35},{"i":51,"o":0.7286,"h":0.731,"l":0.7234,"c":0.7238,"v":45},{"i":52,"o":0.7241,"h":0.7247,"l":0.7171,"c":0.7182,"v":42},{"i":53,"o":0.7176,"h":0.7236,"l":0.7171,"c":0.723,"v":50},{"i":54,"o":0.723,"h":0.7274,"l":0.7223,"c":0.7262,"v":40},{"i":55,"o":0.7261,"h":0.7301,"l":0.7256,"c":0.7287,"v":35},{"i":56,"o":0.7289,"h":0.7295,"l":0.7277,"c":0.7286,"v":38},{"i":57,"o":0.7286,"h":0.7292,"l":0.7223,"c":0.7265,"v":32},{"i":58,"o":0.7268,"h":0.7313,"l":0.7262,"c":0.7307,"v":35},{"i":59,"o":0.7307,"h":0.7325,"l":0.7304,"c":0.7313,"v":32},{"i":60,"o":0.7304,"h":0.7363,"l":0.7298,"c":0.7348,"v":30},{"i":61,"o":0.7346,"h":0.7363,"l":0.734,"c":0.7354,"v":32},{"i":62,"o":0.7348,"h":0.7381,"l":0.7321,"c":0.7375,"v":32},{"i":63,"o":0.7377,"h":0.7423,"l":0.7372,"c":0.7417,"v":35},{"i":64,"o":0.7412,"h":0.7439,"l":0.7402,"c":0.7421,"v":32}],
"NZD":[{"i":0,"o":0.6977,"h":0.7079,"l":0.6974,"c":0.7005,"v":50},{"i":1,"o":0.7005,"h":0.7012,"l":0.6918,"c":0.6921,"v":70},{"i":2,"o":0.6941,"h":0.6947,"l":0.6876,"c":0.6914,"v":60},{"i":3,"o":0.6912,"h":0.697,"l":0.6889,"c":0.6962,"v":35},{"i":4,"o":0.6962,"h":0.6996,"l":0.6952,"c":0.6977,"v":30},{"i":5,"o":0.697,"h":0.6988,"l":0.6961,"c":0.6979,"v":25},{"i":6,"o":0.6971,"h":0.7004,"l":0.6968,"c":0.6987,"v":30},{"i":7,"o":0.6995,"h":0.7001,"l":0.6943,"c":0.6954,"v":55},{"i":8,"o":0.6956,"h":0.6961,"l":0.6898,"c":0.695,"v":60},{"i":9,"o":0.6952,"h":0.7016,"l":0.6947,"c":0.701,"v":50},{"i":10,"o":0.7004,"h":0.701,"l":0.695,"c":0.6954,"v":45},{"i":11,"o":0.6968,"h":0.6974,"l":0.6952,"c":0.6959,"v":35},{"i":12,"o":0.6962,"h":0.7016,"l":0.6959,"c":0.701,"v":38},{"i":13,"o":0.7012,"h":0.7086,"l":0.7007,"c":0.7043,"v":60},{"i":14,"o":0.7039,"h":0.7071,"l":0.7032,"c":0.7054,"v":40},{"i":15,"o":0.7054,"h":0.7059,"l":0.7001,"c":0.7005,"v":35},{"i":16,"o":0.7004,"h":0.701,"l":0.6983,"c":0.6987,"v":35},{"i":17,"o":0.6987,"h":0.7014,"l":0.6963,"c":0.7004,"v":30},{"i":18,"o":0.7004,"h":0.7057,"l":0.6998,"c":0.7037,"v":30},{"i":19,"o":0.7037,"h":0.7043,"l":0.6983,"c":0.6987,"v":35},{"i":20,"o":0.6989,"h":0.7043,"l":0.6985,"c":0.7037,"v":25},{"i":21,"o":0.7037,"h":0.7041,"l":0.7003,"c":0.7007,"v":50},{"i":22,"o":0.701,"h":0.7014,"l":0.6894,"c":0.6898,"v":80},{"i":23,"o":0.6916,"h":0.6947,"l":0.6889,"c":0.6894,"v":85},{"i":24,"o":0.6879,"h":0.6882,"l":0.6809,"c":0.6822,"v":55},{"i":25,"o":0.6827,"h":0.684,"l":0.6802,"c":0.6834,"v":40},{"i":26,"o":0.6832,"h":0.6903,"l":0.6827,"c":0.6896,"v":40},{"i":27,"o":0.6889,"h":0.6962,"l":0.6885,"c":0.6941,"v":45},{"i":28,"o":0.6947,"h":0.6983,"l":0.6945,"c":0.6974,"v":30},{"i":29,"o":0.6974,"h":0.6979,"l":0.6934,"c":0.6938,"v":30},{"i":30,"o":0.6941,"h":0.7012,"l":0.6934,"c":0.7007,"v":45},{"i":31,"o":0.701,"h":0.7016,"l":0.6994,"c":0.6998,"v":25},{"i":32,"o":0.7001,"h":0.7063,"l":0.6996,"c":0.7052,"v":40},{"i":33,"o":0.7043,"h":0.707,"l":0.7039,"c":0.7063,"v":38},{"i":34,"o":0.7059,"h":0.7117,"l":0.7054,"c":0.7112,"v":40},{"i":35,"o":0.7105,"h":0.7168,"l":0.7102,"c":0.7157,"v":45},{"i":36,"o":0.715,"h":0.7155,"l":0.7086,"c":0.709,"v":80},{"i":37,"o":0.7096,"h":0.7108,"l":0.7079,"c":0.7102,"v":55},{"i":38,"o":0.7099,"h":0.7132,"l":0.7095,"c":0.7112,"v":50},{"i":39,"o":0.7112,"h":0.713,"l":0.7093,"c":0.7096,"v":35},{"i":40,"o":0.7109,"h":0.7135,"l":0.7075,"c":0.7081,"v":40},{"i":41,"o":0.7107,"h":0.7135,"l":0.7088,"c":0.7093,"v":45},{"i":42,"o":0.709,"h":0.7104,"l":0.7086,"c":0.7093,"v":30},{"i":43,"o":0.7104,"h":0.7108,"l":0.7063,"c":0.7068,"v":40},{"i":44,"o":0.7068,"h":0.7072,"l":0.7023,"c":0.7028,"v":45},{"i":45,"o":0.7032,"h":0.7039,"l":0.7003,"c":0.7007,"v":45},{"i":46,"o":0.7012,"h":0.7019,"l":0.699,"c":0.6995,"v":40},{"i":47,"o":0.7001,"h":0.701,"l":0.6985,"c":0.6988,"v":45},{"i":48,"o":0.6992,"h":0.7086,"l":0.6987,"c":0.707,"v":45},{"i":49,"o":0.7061,"h":0.7066,"l":0.6998,"c":0.7004,"v":35},{"i":50,"o":0.7001,"h":0.7019,"l":0.6996,"c":0.7012,"v":45},{"i":51,"o":0.701,"h":0.7016,"l":0.6938,"c":0.6943,"v":60},{"i":52,"o":0.6952,"h":0.6956,"l":0.6852,"c":0.6855,"v":65},{"i":53,"o":0.6854,"h":0.6909,"l":0.6849,"c":0.6903,"v":55},{"i":54,"o":0.6894,"h":0.6947,"l":0.6889,"c":0.6938,"v":50},{"i":55,"o":0.6932,"h":0.698,"l":0.6927,"c":0.6954,"v":40},{"i":56,"o":0.6956,"h":0.6961,"l":0.6948,"c":0.695,"v":38},{"i":57,"o":0.6956,"h":0.6961,"l":0.6871,"c":0.6905,"v":70},{"i":58,"o":0.6903,"h":0.6929,"l":0.6898,"c":0.6923,"v":30},{"i":59,"o":0.6923,"h":0.695,"l":0.6918,"c":0.6929,"v":35},{"i":60,"o":0.6929,"h":0.6961,"l":0.6923,"c":0.6936,"v":38},{"i":61,"o":0.6938,"h":0.695,"l":0.6923,"c":0.6934,"v":45},{"i":62,"o":0.6923,"h":0.6961,"l":0.6903,"c":0.6947,"v":50},{"i":63,"o":0.6956,"h":0.7028,"l":0.6952,"c":0.7016,"v":48},{"i":64,"o":0.7023,"h":0.7073,"l":0.7019,"c":0.7069,"v":40}]
},
"concat":[
{"width":259,"height":150,"data":{"name":"USD"},
"encoding":{"x":{"field":"i","type":"quantitative","scale":{"domain":[-0.5,64.5],"nice":false,"zero":false,"padding":0},"axis":{"values":[10,32.5,54.3],"labelExpr":"datum.value < 20 ? 'Aug' : datum.value < 44 ? 'Sep' : 'Oct'","title":null}}},
"layer":[
{"mark":{"type":"bar","width":4},"encoding":{"y":{"field":"v","type":"quantitative","scale":{"domain":[0,450]},"axis":{"orient":"left","title":"DAILY","labels":false,"ticks":false,"domain":false,"grid":false,"titleFont":"DejaVu Sans","titleFontSize":13,"titleFontWeight":"bold","titleColor":"#cdcdcd","titlePadding":5}},"fill":{"condition":{"test":"datum.c >= datum.o","value":"#b4e2b4"},"value":"#ffc2c2"}}},
{"mark":{"type":"rule","strokeWidth":1},"encoding":{"y":{"field":"l","type":"quantitative","scale":{"domain":[91.5,95],"zero":false,"nice":false},"axis":{"orient":"right","values":[91.5,92,92.5,93,93.5,94,94.5,95],"format":".2f","title":null,"grid":true,"labels":true}},"y2":{"field":"h"},"stroke":{"condition":{"test":"datum.c >= datum.o","value":"#0b6e0b"},"value":"#6e0000"}}},
{"mark":{"type":"bar","width":3,"strokeWidth":1},"encoding":{"y":{"field":"o","type":"quantitative","scale":{"domain":[91.5,95],"zero":false,"nice":false},"axis":null},"y2":{"field":"c"},"fill":{"condition":{"test":"datum.c >= datum.o","value":"#33cc33"},"value":"#cc0000"},"stroke":{"condition":{"test":"datum.c >= datum.o","value":"#0b6e0b"},"value":"#6e0000"}}},
{"transform":[{"filter":"datum.i == 64"}],"mark":{"type":"point","shape":"M-1,-0.4H1V0.4H-1Z","size":625,"filled":true,"fill":"#ffff00","opacity":1,"strokeWidth":0},"encoding":{"x":{"datum":68.1},"y":{"field":"c","type":"quantitative","scale":{"domain":[91.5,95],"zero":false,"nice":false},"axis":null}}},
{"transform":[{"filter":"datum.i == 64"}],"mark":{"type":"text","font":"Liberation Sans","fontSize":8.5,"fill":"#111","baseline":"middle","align":"center"},"encoding":{"x":{"datum":68.1},"y":{"field":"c","type":"quantitative","scale":{"domain":[91.5,95],"zero":false,"nice":false},"axis":null},"text":{"field":"c","format":".2f"}}},
{"transform":[{"filter":"datum.i == 64"}],"mark":{"type":"text","text":"USD","font":"Liberation Sans","fontSize":20,"fontWeight":"bold","fill":"#7a7a7a","align":"left","baseline":"alphabetic","dx":-23,"dy":5},"encoding":{"x":{"datum":-0.5},"y":{"datum":1,"type":"quantitative","scale":{"domain":[0,1]},"axis":null}}},
{"transform":[{"filter":"datum.i == 64"}],"mark":{"type":"text","text":"05:00 PM","font":"DejaVu Sans","fontSize":7.7,"fill":"#555","align":"left","baseline":"alphabetic","dx":119,"dy":-4},"encoding":{"x":{"datum":-0.5},"y":{"datum":1,"type":"quantitative","scale":{"domain":[0,1]},"axis":null}}},
{"transform":[{"filter":"datum.i == 64"}],"mark":{"type":"text","text":"+0.01 (0.01%)","font":"DejaVu Sans","fontSize":7.4,"fontWeight":"bold","fill":"#22a022","align":"right","baseline":"alphabetic","dx":-31,"dy":-4},"encoding":{"x":{"datum":64.5},"y":{"datum":1,"type":"quantitative","scale":{"domain":[0,1]},"axis":null}}},
{"transform":[{"filter":"datum.i == 64"}],"mark":{"type":"text","text":"⊜ finviz.com","font":"DejaVu Sans","fontSize":8.5,"fill":"#7fa9c8","align":"right","baseline":"alphabetic","dx":28,"dy":-5},"encoding":{"x":{"datum":64.5},"y":{"datum":1,"type":"quantitative","scale":{"domain":[0,1]},"axis":null}}}
],
"resolve":{"scale":{"y":"independent"}}},
{"width":259,"height":150,"data":{"name":"EUR"},
"encoding":{"x":{"field":"i","type":"quantitative","scale":{"domain":[-0.5,64.5],"nice":false,"zero":false,"padding":0},"axis":{"values":[11.1,33.1,54.4],"labelExpr":"datum.value < 20 ? 'Aug' : datum.value < 44 ? 'Sep' : 'Oct'","title":null}}},
"layer":[
{"mark":{"type":"bar","width":4},"encoding":{"y":{"field":"v","type":"quantitative","scale":{"domain":[0,450]},"axis":{"orient":"left","title":"DAILY","labels":false,"ticks":false,"domain":false,"grid":false,"titleFont":"DejaVu Sans","titleFontSize":13,"titleFontWeight":"bold","titleColor":"#cdcdcd","titlePadding":5}},"fill":{"condition":{"test":"datum.c >= datum.o","value":"#b4e2b4"},"value":"#ffc2c2"}}},
{"mark":{"type":"rule","strokeWidth":1},"encoding":{"y":{"field":"l","type":"quantitative","scale":{"domain":[1.15,1.195],"zero":false,"nice":false},"axis":{"orient":"right","values":[1.15,1.155,1.16,1.165,1.17,1.175,1.18,1.185,1.19,1.195],"format":".4f","title":null,"grid":true,"labels":true}},"y2":{"field":"h"},"stroke":{"condition":{"test":"datum.c >= datum.o","value":"#0b6e0b"},"value":"#6e0000"}}},
{"mark":{"type":"bar","width":3,"strokeWidth":1},"encoding":{"y":{"field":"o","type":"quantitative","scale":{"domain":[1.15,1.195],"zero":false,"nice":false},"axis":null},"y2":{"field":"c"},"fill":{"condition":{"test":"datum.c >= datum.o","value":"#33cc33"},"value":"#cc0000"},"stroke":{"condition":{"test":"datum.c >= datum.o","value":"#0b6e0b"},"value":"#6e0000"}}},
{"transform":[{"filter":"datum.i == 64"}],"mark":{"type":"point","shape":"M-1,-0.35H1V0.35H-1Z","size":841,"filled":true,"fill":"#ffff00","opacity":1,"strokeWidth":0},"encoding":{"x":{"datum":68.5},"y":{"field":"c","type":"quantitative","scale":{"domain":[1.15,1.195],"zero":false,"nice":false},"axis":null}}},
{"transform":[{"filter":"datum.i == 64"}],"mark":{"type":"text","font":"Liberation Sans","fontSize":8.5,"fill":"#111","baseline":"middle","align":"center"},"encoding":{"x":{"datum":68.5},"y":{"field":"c","type":"quantitative","scale":{"domain":[1.15,1.195],"zero":false,"nice":false},"axis":null},"text":{"field":"c","format":".4f"}}},
{"transform":[{"filter":"datum.i == 64"}],"mark":{"type":"text","text":"EUR","font":"Liberation Sans","fontSize":20,"fontWeight":"bold","fill":"#7a7a7a","align":"left","baseline":"alphabetic","dx":-23,"dy":5},"encoding":{"x":{"datum":-0.5},"y":{"datum":1,"type":"quantitative","scale":{"domain":[0,1]},"axis":null}}},
{"transform":[{"filter":"datum.i == 64"}],"mark":{"type":"text","text":"05:00 PM","font":"DejaVu Sans","fontSize":7.7,"fill":"#555","align":"left","baseline":"alphabetic","dx":119,"dy":-4},"encoding":{"x":{"datum":-0.5},"y":{"datum":1,"type":"quantitative","scale":{"domain":[0,1]},"axis":null}}},
{"transform":[{"filter":"datum.i == 64"}],"mark":{"type":"text","text":"-0.0001 (0.01%)","font":"DejaVu Sans","fontSize":7.4,"fontWeight":"bold","fill":"#cc2222","align":"right","baseline":"alphabetic","dx":-31,"dy":-4},"encoding":{"x":{"datum":64.5},"y":{"datum":1,"type":"quantitative","scale":{"domain":[0,1]},"axis":null}}},
{"transform":[{"filter":"datum.i == 64"}],"mark":{"type":"text","text":"⊜ finviz.com","font":"DejaVu Sans","fontSize":8.5,"fill":"#7fa9c8","align":"right","baseline":"alphabetic","dx":28,"dy":-5},"encoding":{"x":{"datum":64.5},"y":{"datum":1,"type":"quantitative","scale":{"domain":[0,1]},"axis":null}}}
],
"resolve":{"scale":{"y":"independent"}}},
{"width":259,"height":150,"data":{"name":"JPY"},
"encoding":{"x":{"field":"i","type":"quantitative","scale":{"domain":[-0.5,64.5],"nice":false,"zero":false,"padding":0},"axis":{"values":[11.1,33.1,54.4],"labelExpr":"datum.value < 20 ? 'Aug' : datum.value < 44 ? 'Sep' : 'Oct'","title":null}}},
"layer":[
{"mark":{"type":"bar","width":4},"encoding":{"y":{"field":"v","type":"quantitative","scale":{"domain":[0,450]},"axis":{"orient":"left","title":"DAILY","labels":false,"ticks":false,"domain":false,"grid":false,"titleFont":"DejaVu Sans","titleFontSize":13,"titleFontWeight":"bold","titleColor":"#cdcdcd","titlePadding":5}},"fill":{"condition":{"test":"datum.c >= datum.o","value":"#b4e2b4"},"value":"#ffc2c2"}}},
{"mark":{"type":"rule","strokeWidth":1},"encoding":{"y":{"field":"l","type":"quantitative","scale":{"domain":[0.87,0.92],"zero":false,"nice":false},"axis":{"orient":"right","values":[0.87,0.88,0.89,0.9,0.91,0.92],"format":".4f","title":null,"grid":true,"labels":true}},"y2":{"field":"h"},"stroke":{"condition":{"test":"datum.c >= datum.o","value":"#0b6e0b"},"value":"#6e0000"}}},
{"mark":{"type":"bar","width":3,"strokeWidth":1},"encoding":{"y":{"field":"o","type":"quantitative","scale":{"domain":[0.87,0.92],"zero":false,"nice":false},"axis":null},"y2":{"field":"c"},"fill":{"condition":{"test":"datum.c >= datum.o","value":"#33cc33"},"value":"#cc0000"},"stroke":{"condition":{"test":"datum.c >= datum.o","value":"#0b6e0b"},"value":"#6e0000"}}},
{"transform":[{"filter":"datum.i == 64"}],"mark":{"type":"point","shape":"M-1,-0.35H1V0.35H-1Z","size":841,"filled":true,"fill":"#ffff00","opacity":1,"strokeWidth":0},"encoding":{"x":{"datum":68.5},"y":{"field":"c","type":"quantitative","scale":{"domain":[0.87,0.92],"zero":false,"nice":false},"axis":null}}},
{"transform":[{"filter":"datum.i == 64"}],"mark":{"type":"text","font":"Liberation Sans","fontSize":8.5,"fill":"#111","baseline":"middle","align":"center"},"encoding":{"x":{"datum":68.5},"y":{"field":"c","type":"quantitative","scale":{"domain":[0.87,0.92],"zero":false,"nice":false},"axis":null},"text":{"field":"c","format":".4f"}}},
{"transform":[{"filter":"datum.i == 64"}],"mark":{"type":"text","text":"JPY","font":"Liberation Sans","fontSize":20,"fontWeight":"bold","fill":"#7a7a7a","align":"left","baseline":"alphabetic","dx":-23,"dy":5},"encoding":{"x":{"datum":-0.5},"y":{"datum":1,"type":"quantitative","scale":{"domain":[0,1]},"axis":null}}},
{"transform":[{"filter":"datum.i == 64"}],"mark":{"type":"text","text":"05:00 PM","font":"DejaVu Sans","fontSize":7.7,"fill":"#555","align":"left","baseline":"alphabetic","dx":119,"dy":-4},"encoding":{"x":{"datum":-0.5},"y":{"datum":1,"type":"quantitative","scale":{"domain":[0,1]},"axis":null}}},
{"transform":[{"filter":"datum.i == 64"}],"mark":{"type":"text","text":"-0.0047 (0.53%)","font":"DejaVu Sans","fontSize":7.4,"fontWeight":"bold","fill":"#cc2222","align":"right","baseline":"alphabetic","dx":-31,"dy":-4},"encoding":{"x":{"datum":64.5},"y":{"datum":1,"type":"quantitative","scale":{"domain":[0,1]},"axis":null}}},
{"transform":[{"filter":"datum.i == 64"}],"mark":{"type":"text","text":"⊜ finviz.com","font":"DejaVu Sans","fontSize":8.5,"fill":"#7fa9c8","align":"right","baseline":"alphabetic","dx":28,"dy":-5},"encoding":{"x":{"datum":64.5},"y":{"datum":1,"type":"quantitative","scale":{"domain":[0,1]},"axis":null}}}
],
"resolve":{"scale":{"y":"independent"}}},
{"width":259,"height":150,"data":{"name":"GBP"},
"encoding":{"x":{"field":"i","type":"quantitative","scale":{"domain":[-0.5,64.5],"nice":false,"zero":false,"padding":0},"axis":{"values":[11.1,33.1,54.4],"labelExpr":"datum.value < 20 ? 'Aug' : datum.value < 44 ? 'Sep' : 'Oct'","title":null}}},
"layer":[
{"mark":{"type":"bar","width":4},"encoding":{"y":{"field":"v","type":"quantitative","scale":{"domain":[0,450]},"axis":{"orient":"left","title":"DAILY","labels":false,"ticks":false,"domain":false,"grid":false,"titleFont":"DejaVu Sans","titleFontSize":13,"titleFontWeight":"bold","titleColor":"#cdcdcd","titlePadding":5}},"fill":{"condition":{"test":"datum.c >= datum.o","value":"#b4e2b4"},"value":"#ffc2c2"}}},
{"mark":{"type":"rule","strokeWidth":1},"encoding":{"y":{"field":"l","type":"quantitative","scale":{"domain":[1.34,1.4],"zero":false,"nice":false},"axis":{"orient":"right","values":[1.34,1.35,1.36,1.37,1.38,1.39,1.4],"format":".4f","title":null,"grid":true,"labels":true}},"y2":{"field":"h"},"stroke":{"condition":{"test":"datum.c >= datum.o","value":"#0b6e0b"},"value":"#6e0000"}}},
{"mark":{"type":"bar","width":3,"strokeWidth":1},"encoding":{"y":{"field":"o","type":"quantitative","scale":{"domain":[1.34,1.4],"zero":false,"nice":false},"axis":null},"y2":{"field":"c"},"fill":{"condition":{"test":"datum.c >= datum.o","value":"#33cc33"},"value":"#cc0000"},"stroke":{"condition":{"test":"datum.c >= datum.o","value":"#0b6e0b"},"value":"#6e0000"}}},
{"transform":[{"filter":"datum.i == 64"}],"mark":{"type":"point","shape":"M-1,-0.35H1V0.35H-1Z","size":841,"filled":true,"fill":"#ffff00","opacity":1,"strokeWidth":0},"encoding":{"x":{"datum":68.5},"y":{"field":"c","type":"quantitative","scale":{"domain":[1.34,1.4],"zero":false,"nice":false},"axis":null}}},
{"transform":[{"filter":"datum.i == 64"}],"mark":{"type":"text","font":"Liberation Sans","fontSize":8.5,"fill":"#111","baseline":"middle","align":"center"},"encoding":{"x":{"datum":68.5},"y":{"field":"c","type":"quantitative","scale":{"domain":[1.34,1.4],"zero":false,"nice":false},"axis":null},"text":{"field":"c","format":".4f"}}},
{"transform":[{"filter":"datum.i == 64"}],"mark":{"type":"text","text":"GBP","font":"Liberation Sans","fontSize":20,"fontWeight":"bold","fill":"#7a7a7a","align":"left","baseline":"alphabetic","dx":-23,"dy":5},"encoding":{"x":{"datum":-0.5},"y":{"datum":1,"type":"quantitative","scale":{"domain":[0,1]},"axis":null}}},
{"transform":[{"filter":"datum.i == 64"}],"mark":{"type":"text","text":"05:00 PM","font":"DejaVu Sans","fontSize":7.7,"fill":"#555","align":"left","baseline":"alphabetic","dx":119,"dy":-4},"encoding":{"x":{"datum":-0.5},"y":{"datum":1,"type":"quantitative","scale":{"domain":[0,1]},"axis":null}}},
{"transform":[{"filter":"datum.i == 64"}],"mark":{"type":"text","text":"+0.0056 (0.41%)","font":"DejaVu Sans","fontSize":7.4,"fontWeight":"bold","fill":"#22a022","align":"right","baseline":"alphabetic","dx":-31,"dy":-4},"encoding":{"x":{"datum":64.5},"y":{"datum":1,"type":"quantitative","scale":{"domain":[0,1]},"axis":null}}},
{"transform":[{"filter":"datum.i == 64"}],"mark":{"type":"text","text":"⊜ finviz.com","font":"DejaVu Sans","fontSize":8.5,"fill":"#7fa9c8","align":"right","baseline":"alphabetic","dx":28,"dy":-5},"encoding":{"x":{"datum":64.5},"y":{"datum":1,"type":"quantitative","scale":{"domain":[0,1]},"axis":null}}}
],
"resolve":{"scale":{"y":"independent"}}},
{"width":259,"height":150,"data":{"name":"CAD"},
"encoding":{"x":{"field":"i","type":"quantitative","scale":{"domain":[-0.5,64.5],"nice":false,"zero":false,"padding":0},"axis":{"values":[11.1,33.1,54.4],"labelExpr":"datum.value < 20 ? 'Aug' : datum.value < 44 ? 'Sep' : 'Oct'","title":null}}},
"layer":[
{"mark":{"type":"bar","width":4},"encoding":{"y":{"field":"v","type":"quantitative","scale":{"domain":[0,450]},"axis":{"orient":"left","title":"DAILY","labels":false,"ticks":false,"domain":false,"grid":false,"titleFont":"DejaVu Sans","titleFontSize":13,"titleFontWeight":"bold","titleColor":"#cdcdcd","titlePadding":5}},"fill":{"condition":{"test":"datum.c >= datum.o","value":"#b4e2b4"},"value":"#ffc2c2"}}},
{"mark":{"type":"rule","strokeWidth":1},"encoding":{"y":{"field":"l","type":"quantitative","scale":{"domain":[0.77,0.815],"zero":false,"nice":false},"axis":{"orient":"right","values":[0.77,0.775,0.78,0.785,0.79,0.795,0.8,0.805,0.81,0.815],"format":".4f","title":null,"grid":true,"labels":true}},"y2":{"field":"h"},"stroke":{"condition":{"test":"datum.c >= datum.o","value":"#0b6e0b"},"value":"#6e0000"}}},
{"mark":{"type":"bar","width":3,"strokeWidth":1},"encoding":{"y":{"field":"o","type":"quantitative","scale":{"domain":[0.77,0.815],"zero":false,"nice":false},"axis":null},"y2":{"field":"c"},"fill":{"condition":{"test":"datum.c >= datum.o","value":"#33cc33"},"value":"#cc0000"},"stroke":{"condition":{"test":"datum.c >= datum.o","value":"#0b6e0b"},"value":"#6e0000"}}},
{"transform":[{"filter":"datum.i == 64"}],"mark":{"type":"point","shape":"M-1,-0.35H1V0.35H-1Z","size":841,"filled":true,"fill":"#ffff00","opacity":1,"strokeWidth":0},"encoding":{"x":{"datum":68.5},"y":{"field":"c","type":"quantitative","scale":{"domain":[0.77,0.815],"zero":false,"nice":false},"axis":null}}},
{"transform":[{"filter":"datum.i == 64"}],"mark":{"type":"text","font":"Liberation Sans","fontSize":8.5,"fill":"#111","baseline":"middle","align":"center"},"encoding":{"x":{"datum":68.5},"y":{"field":"c","type":"quantitative","scale":{"domain":[0.77,0.815],"zero":false,"nice":false},"axis":null},"text":{"field":"c","format":".4f"}}},
{"transform":[{"filter":"datum.i == 64"}],"mark":{"type":"text","text":"CAD","font":"Liberation Sans","fontSize":20,"fontWeight":"bold","fill":"#7a7a7a","align":"left","baseline":"alphabetic","dx":-23,"dy":5},"encoding":{"x":{"datum":-0.5},"y":{"datum":1,"type":"quantitative","scale":{"domain":[0,1]},"axis":null}}},
{"transform":[{"filter":"datum.i == 64"}],"mark":{"type":"text","text":"05:00 PM","font":"DejaVu Sans","fontSize":7.7,"fill":"#555","align":"left","baseline":"alphabetic","dx":119,"dy":-4},"encoding":{"x":{"datum":-0.5},"y":{"datum":1,"type":"quantitative","scale":{"domain":[0,1]},"axis":null}}},
{"transform":[{"filter":"datum.i == 64"}],"mark":{"type":"text","text":"+0.0005 (0.06%)","font":"DejaVu Sans","fontSize":7.4,"fontWeight":"bold","fill":"#22a022","align":"right","baseline":"alphabetic","dx":-31,"dy":-4},"encoding":{"x":{"datum":64.5},"y":{"datum":1,"type":"quantitative","scale":{"domain":[0,1]},"axis":null}}},
{"transform":[{"filter":"datum.i == 64"}],"mark":{"type":"text","text":"⊜ finviz.com","font":"DejaVu Sans","fontSize":8.5,"fill":"#7fa9c8","align":"right","baseline":"alphabetic","dx":28,"dy":-5},"encoding":{"x":{"datum":64.5},"y":{"datum":1,"type":"quantitative","scale":{"domain":[0,1]},"axis":null}}}
],
"resolve":{"scale":{"y":"independent"}}},
{"width":259,"height":150,"data":{"name":"CHF"},
"encoding":{"x":{"field":"i","type":"quantitative","scale":{"domain":[-0.5,64.5],"nice":false,"zero":false,"padding":0},"axis":{"values":[11.1,33.1,54.4],"labelExpr":"datum.value < 20 ? 'Aug' : datum.value < 44 ? 'Sep' : 'Oct'","title":null}}},
"layer":[
{"mark":{"type":"bar","width":4},"encoding":{"y":{"field":"v","type":"quantitative","scale":{"domain":[0,450]},"axis":{"orient":"left","title":"DAILY","labels":false,"ticks":false,"domain":false,"grid":false,"titleFont":"DejaVu Sans","titleFontSize":13,"titleFontWeight":"bold","titleColor":"#cdcdcd","titlePadding":5}},"fill":{"condition":{"test":"datum.c >= datum.o","value":"#b4e2b4"},"value":"#ffc2c2"}}},
{"mark":{"type":"rule","strokeWidth":1},"encoding":{"y":{"field":"l","type":"quantitative","scale":{"domain":[1.06,1.12],"zero":false,"nice":false},"axis":{"orient":"right","values":[1.06,1.07,1.08,1.09,1.1,1.11,1.12],"format":".4f","title":null,"grid":true,"labels":true}},"y2":{"field":"h"},"stroke":{"condition":{"test":"datum.c >= datum.o","value":"#0b6e0b"},"value":"#6e0000"}}},
{"mark":{"type":"bar","width":3,"strokeWidth":1},"encoding":{"y":{"field":"o","type":"quantitative","scale":{"domain":[1.06,1.12],"zero":false,"nice":false},"axis":null},"y2":{"field":"c"},"fill":{"condition":{"test":"datum.c >= datum.o","value":"#33cc33"},"value":"#cc0000"},"stroke":{"condition":{"test":"datum.c >= datum.o","value":"#0b6e0b"},"value":"#6e0000"}}},
{"transform":[{"filter":"datum.i == 64"}],"mark":{"type":"point","shape":"M-1,-0.35H1V0.35H-1Z","size":841,"filled":true,"fill":"#ffff00","opacity":1,"strokeWidth":0},"encoding":{"x":{"datum":68.5},"y":{"field":"c","type":"quantitative","scale":{"domain":[1.06,1.12],"zero":false,"nice":false},"axis":null}}},
{"transform":[{"filter":"datum.i == 64"}],"mark":{"type":"text","font":"Liberation Sans","fontSize":8.5,"fill":"#111","baseline":"middle","align":"center"},"encoding":{"x":{"datum":68.5},"y":{"field":"c","type":"quantitative","scale":{"domain":[1.06,1.12],"zero":false,"nice":false},"axis":null},"text":{"field":"c","format":".4f"}}},
{"transform":[{"filter":"datum.i == 64"}],"mark":{"type":"text","text":"CHF","font":"Liberation Sans","fontSize":20,"fontWeight":"bold","fill":"#7a7a7a","align":"left","baseline":"alphabetic","dx":-23,"dy":5},"encoding":{"x":{"datum":-0.5},"y":{"datum":1,"type":"quantitative","scale":{"domain":[0,1]},"axis":null}}},
{"transform":[{"filter":"datum.i == 64"}],"mark":{"type":"text","text":"04:56 PM","font":"DejaVu Sans","fontSize":7.7,"fill":"#555","align":"left","baseline":"alphabetic","dx":119,"dy":-4},"encoding":{"x":{"datum":-0.5},"y":{"datum":1,"type":"quantitative","scale":{"domain":[0,1]},"axis":null}}},
{"transform":[{"filter":"datum.i == 64"}],"mark":{"type":"text","text":"+0.0001 (0.01%)","font":"DejaVu Sans","fontSize":7.4,"fontWeight":"bold","fill":"#22a022","align":"right","baseline":"alphabetic","dx":-31,"dy":-4},"encoding":{"x":{"datum":64.5},"y":{"datum":1,"type":"quantitative","scale":{"domain":[0,1]},"axis":null}}},
{"transform":[{"filter":"datum.i == 64"}],"mark":{"type":"text","text":"⊜ finviz.com","font":"DejaVu Sans","fontSize":8.5,"fill":"#7fa9c8","align":"right","baseline":"alphabetic","dx":28,"dy":-5},"encoding":{"x":{"datum":64.5},"y":{"datum":1,"type":"quantitative","scale":{"domain":[0,1]},"axis":null}}}
],
"resolve":{"scale":{"y":"independent"}}},
{"width":259,"height":150,"data":{"name":"AUD"},
"encoding":{"x":{"field":"i","type":"quantitative","scale":{"domain":[-0.5,64.5],"nice":false,"zero":false,"padding":0},"axis":{"values":[11.1,33.1,54.4],"labelExpr":"datum.value < 20 ? 'Aug' : datum.value < 44 ? 'Sep' : 'Oct'","title":null}}},
"layer":[
{"mark":{"type":"bar","width":4},"encoding":{"y":{"field":"v","type":"quantitative","scale":{"domain":[0,450]},"axis":{"orient":"left","title":"DAILY","labels":false,"ticks":false,"domain":false,"grid":false,"titleFont":"DejaVu Sans","titleFontSize":13,"titleFontWeight":"bold","titleColor":"#cdcdcd","titlePadding":5}},"fill":{"condition":{"test":"datum.c >= datum.o","value":"#b4e2b4"},"value":"#ffc2c2"}}},
{"mark":{"type":"rule","strokeWidth":1},"encoding":{"y":{"field":"l","type":"quantitative","scale":{"domain":[0.71,0.75],"zero":false,"nice":false},"axis":{"orient":"right","values":[0.71,0.715,0.72,0.725,0.73,0.735,0.74,0.745,0.75],"format":".4f","title":null,"grid":true,"labels":true}},"y2":{"field":"h"},"stroke":{"condition":{"test":"datum.c >= datum.o","value":"#0b6e0b"},"value":"#6e0000"}}},
{"mark":{"type":"bar","width":3,"strokeWidth":1},"encoding":{"y":{"field":"o","type":"quantitative","scale":{"domain":[0.71,0.75],"zero":false,"nice":false},"axis":null},"y2":{"field":"c"},"fill":{"condition":{"test":"datum.c >= datum.o","value":"#33cc33"},"value":"#cc0000"},"stroke":{"condition":{"test":"datum.c >= datum.o","value":"#0b6e0b"},"value":"#6e0000"}}},
{"transform":[{"filter":"datum.i == 64"}],"mark":{"type":"point","shape":"M-1,-0.35H1V0.35H-1Z","size":841,"filled":true,"fill":"#ffff00","opacity":1,"strokeWidth":0},"encoding":{"x":{"datum":68.5},"y":{"field":"c","type":"quantitative","scale":{"domain":[0.71,0.75],"zero":false,"nice":false},"axis":null}}},
{"transform":[{"filter":"datum.i == 64"}],"mark":{"type":"text","font":"Liberation Sans","fontSize":8.5,"fill":"#111","baseline":"middle","align":"center"},"encoding":{"x":{"datum":68.5},"y":{"field":"c","type":"quantitative","scale":{"domain":[0.71,0.75],"zero":false,"nice":false},"axis":null},"text":{"field":"c","format":".4f"}}},
{"transform":[{"filter":"datum.i == 64"}],"mark":{"type":"text","text":"AUD","font":"Liberation Sans","fontSize":20,"fontWeight":"bold","fill":"#7a7a7a","align":"left","baseline":"alphabetic","dx":-23,"dy":5},"encoding":{"x":{"datum":-0.5},"y":{"datum":1,"type":"quantitative","scale":{"domain":[0,1]},"axis":null}}},
{"transform":[{"filter":"datum.i == 64"}],"mark":{"type":"text","text":"05:00 PM","font":"DejaVu Sans","fontSize":7.7,"fill":"#555","align":"left","baseline":"alphabetic","dx":119,"dy":-4},"encoding":{"x":{"datum":-0.5},"y":{"datum":1,"type":"quantitative","scale":{"domain":[0,1]},"axis":null}}},
{"transform":[{"filter":"datum.i == 64"}],"mark":{"type":"text","text":"+0.0001 (0.02%)","font":"DejaVu Sans","fontSize":7.4,"fontWeight":"bold","fill":"#22a022","align":"right","baseline":"alphabetic","dx":-31,"dy":-4},"encoding":{"x":{"datum":64.5},"y":{"datum":1,"type":"quantitative","scale":{"domain":[0,1]},"axis":null}}},
{"transform":[{"filter":"datum.i == 64"}],"mark":{"type":"text","text":"⊜ finviz.com","font":"DejaVu Sans","fontSize":8.5,"fill":"#7fa9c8","align":"right","baseline":"alphabetic","dx":28,"dy":-5},"encoding":{"x":{"datum":64.5},"y":{"datum":1,"type":"quantitative","scale":{"domain":[0,1]},"axis":null}}}
],
"resolve":{"scale":{"y":"independent"}}},
{"width":259,"height":150,"data":{"name":"NZD"},
"encoding":{"x":{"field":"i","type":"quantitative","scale":{"domain":[-0.5,64.5],"nice":false,"zero":false,"padding":0},"axis":{"values":[11.1,33.1,54.4],"labelExpr":"datum.value < 20 ? 'Aug' : datum.value < 44 ? 'Sep' : 'Oct'","title":null}}},
"layer":[
{"mark":{"type":"bar","width":4},"encoding":{"y":{"field":"v","type":"quantitative","scale":{"domain":[0,450]},"axis":{"orient":"left","title":"DAILY","labels":false,"ticks":false,"domain":false,"grid":false,"titleFont":"DejaVu Sans","titleFontSize":13,"titleFontWeight":"bold","titleColor":"#cdcdcd","titlePadding":5}},"fill":{"condition":{"test":"datum.c >= datum.o","value":"#b4e2b4"},"value":"#ffc2c2"}}},
{"mark":{"type":"rule","strokeWidth":1},"encoding":{"y":{"field":"l","type":"quantitative","scale":{"domain":[0.68,0.72],"zero":false,"nice":false},"axis":{"orient":"right","values":[0.68,0.685,0.69,0.695,0.7,0.705,0.71,0.715,0.72],"format":".4f","title":null,"grid":true,"labels":true}},"y2":{"field":"h"},"stroke":{"condition":{"test":"datum.c >= datum.o","value":"#0b6e0b"},"value":"#6e0000"}}},
{"mark":{"type":"bar","width":3,"strokeWidth":1},"encoding":{"y":{"field":"o","type":"quantitative","scale":{"domain":[0.68,0.72],"zero":false,"nice":false},"axis":null},"y2":{"field":"c"},"fill":{"condition":{"test":"datum.c >= datum.o","value":"#33cc33"},"value":"#cc0000"},"stroke":{"condition":{"test":"datum.c >= datum.o","value":"#0b6e0b"},"value":"#6e0000"}}},
{"transform":[{"filter":"datum.i == 64"}],"mark":{"type":"point","shape":"M-1,-0.35H1V0.35H-1Z","size":841,"filled":true,"fill":"#ffff00","opacity":1,"strokeWidth":0},"encoding":{"x":{"datum":68.5},"y":{"field":"c","type":"quantitative","scale":{"domain":[0.68,0.72],"zero":false,"nice":false},"axis":null}}},
{"transform":[{"filter":"datum.i == 64"}],"mark":{"type":"text","font":"Liberation Sans","fontSize":8.5,"fill":"#111","baseline":"middle","align":"center"},"encoding":{"x":{"datum":68.5},"y":{"field":"c","type":"quantitative","scale":{"domain":[0.68,0.72],"zero":false,"nice":false},"axis":null},"text":{"field":"c","format":".4f"}}},
{"transform":[{"filter":"datum.i == 64"}],"mark":{"type":"text","text":"NZD","font":"Liberation Sans","fontSize":20,"fontWeight":"bold","fill":"#7a7a7a","align":"left","baseline":"alphabetic","dx":-23,"dy":5},"encoding":{"x":{"datum":-0.5},"y":{"datum":1,"type":"quantitative","scale":{"domain":[0,1]},"axis":null}}},
{"transform":[{"filter":"datum.i == 64"}],"mark":{"type":"text","text":"05:00 PM","font":"DejaVu Sans","fontSize":7.7,"fill":"#555","align":"left","baseline":"alphabetic","dx":119,"dy":-4},"encoding":{"x":{"datum":-0.5},"y":{"datum":1,"type":"quantitative","scale":{"domain":[0,1]},"axis":null}}},
{"transform":[{"filter":"datum.i == 64"}],"mark":{"type":"text","text":"+0.0046 (0.66%)","font":"DejaVu Sans","fontSize":7.4,"fontWeight":"bold","fill":"#22a022","align":"right","baseline":"alphabetic","dx":-31,"dy":-4},"encoding":{"x":{"datum":64.5},"y":{"datum":1,"type":"quantitative","scale":{"domain":[0,1]},"axis":null}}},
{"transform":[{"filter":"datum.i == 64"}],"mark":{"type":"text","text":"⊜ finviz.com","font":"DejaVu Sans","fontSize":8.5,"fill":"#7fa9c8","align":"right","baseline":"alphabetic","dx":28,"dy":-5},"encoding":{"x":{"datum":64.5},"y":{"datum":1,"type":"quantitative","scale":{"domain":[0,1]},"axis":null}}}
],
"resolve":{"scale":{"y":"independent"}}}
],
"config":{
"view":{"stroke":"#cfcfcf","strokeDash":[3,3]},
"axis":{"domain":false,"ticks":false,"grid":true,"gridColor":"#d4d4d4","gridDash":[3,3],"labelFont":"Liberation Sans","labelFontSize":8.5,"labelColor":"#555","labelPadding":4},
"axisX":{"labelFont":"DejaVu Sans","labelFontSize":8.5,"labelPadding":3}
}
}
